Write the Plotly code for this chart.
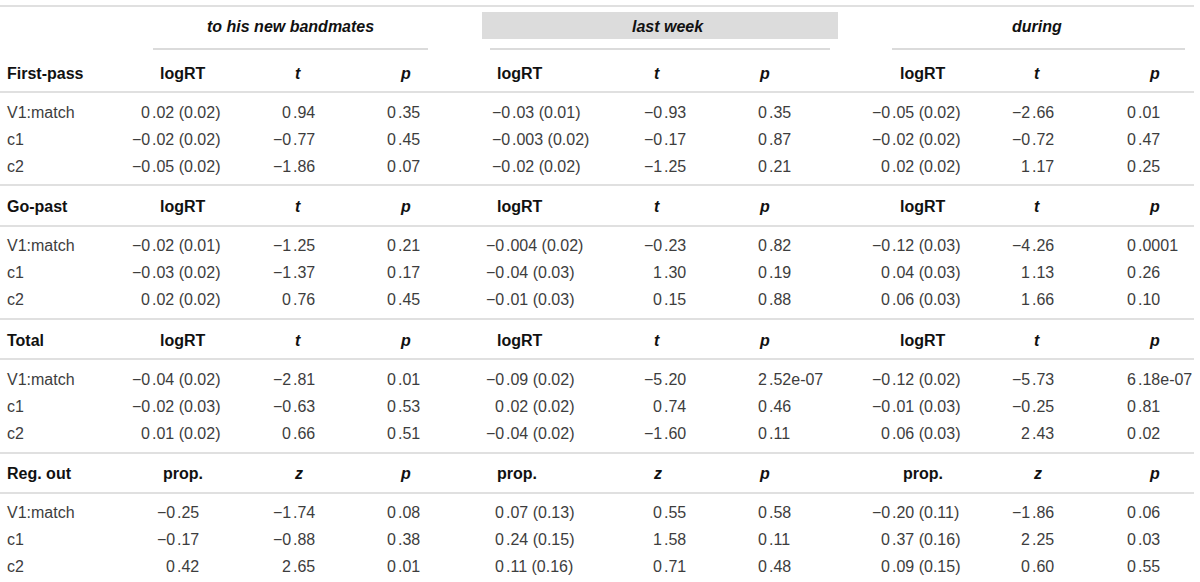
import plotly.graph_objects as go

# ---- table content ----
groups = ["to his new bandmates", "last week", "during"]
sections = ["First-pass", "Go-past", "Total", "Reg. out"]
effects = ["V1:match", "c1", "c2"]
est_names = ["logRT", "logRT", "logRT", "prop."]
stat_names = ["t", "t", "t", "z"]

# each list: [group][effect]
first_pass_est = [["0.02 (0.02)", "−0.02 (0.02)", "−0.05 (0.02)"],
                  ["−0.03 (0.01)", "−0.003 (0.02)", "−0.02 (0.02)"],
                  ["−0.05 (0.02)", "−0.02 (0.02)", "0.02 (0.02)"]]
first_pass_stat = [["0.94", "−0.77", "−1.86"],
                   ["−0.93", "−0.17", "−1.25"],
                   ["−2.66", "−0.72", "1.17"]]
first_pass_p = [["0.35", "0.45", "0.07"],
                ["0.35", "0.87", "0.21"],
                ["0.01", "0.47", "0.25"]]

go_past_est = [["−0.02 (0.01)", "−0.03 (0.02)", "0.02 (0.02)"],
               ["−0.004 (0.02)", "−0.04 (0.03)", "−0.01 (0.03)"],
               ["−0.12 (0.03)", "0.04 (0.03)", "0.06 (0.03)"]]
go_past_stat = [["−1.25", "−1.37", "0.76"],
                ["−0.23", "1.30", "0.15"],
                ["−4.26", "1.13", "1.66"]]
go_past_p = [["0.21", "0.17", "0.45"],
             ["0.82", "0.19", "0.88"],
             ["0.0001", "0.26", "0.10"]]

total_est = [["−0.04 (0.02)", "−0.02 (0.03)", "0.01 (0.02)"],
             ["−0.09 (0.02)", "0.02 (0.02)", "−0.04 (0.02)"],
             ["−0.12 (0.02)", "−0.01 (0.03)", "0.06 (0.03)"]]
total_stat = [["−2.81", "−0.63", "0.66"],
              ["−5.20", "0.74", "−1.60"],
              ["−5.73", "−0.25", "2.43"]]
total_p = [["0.01", "0.53", "0.51"],
           ["2.52e-07", "0.46", "0.11"],
           ["6.18e-07", "0.81", "0.02"]]

reg_out_est = [["−0.25", "−0.17", "0.42"],
               ["0.07 (0.13)", "0.24 (0.15)", "0.11 (0.16)"],
               ["−0.20 (0.11)", "0.37 (0.16)", "0.09 (0.15)"]]
reg_out_stat = [["−1.74", "−0.88", "2.65"],
                ["0.55", "1.58", "0.71"],
                ["−1.86", "2.25", "0.60"]]
reg_out_p = [["0.08", "0.38", "0.01"],
             ["0.58", "0.11", "0.48"],
             ["0.06", "0.03", "0.55"]]

section_data = [
    (first_pass_est, first_pass_stat, first_pass_p),
    (go_past_est, go_past_stat, go_past_p),
    (total_est, total_stat, total_p),
    (reg_out_est, reg_out_stat, reg_out_p),
]

# ---- layout (pixel positions on the 1200x582 page) ----
W, H = 1200, 582
label_x = 6
est_dec = [[151, 151, 151, 176], [511, 504.5, 504.5, 504.5], [891, 891, 891, 891]]
stat_dec = [292, 662.5, 1031]
p_dec = [397, 768, 1137]
est_head = [(183, "center"), (496, "left"), (923, "center")]
stat_head = [298, 657, 1037]
p_head = [405, 764, 1154]
group_x = [290, 668, 1037]
group_line = [(153, 428), (490, 830), (892, 1185)]
group_y, group_line_y = 26, 49
highlight = (482, 838, 12, 39)
header_y = [73, 206.5, 340, 473.5]
row_gap, first_row = 27, 39
full_lines = [6, 92, 185, 226, 319, 359, 453, 493]

val_font = dict(family="Liberation Sans, Arial, sans-serif", size=16, color="#3d3d3d")
head_font = dict(family="Liberation Sans, Arial, sans-serif", size=16, color="#111111")

annotations = []
shapes = []


def cell(x, y, text, anchor, font):
    annotations.append(dict(x=x, y=y, xref="x", yref="y", text=text, showarrow=False,
                            xanchor=anchor, yanchor="middle", borderpad=0, font=font))


def dec_cell(x, y, value):
    # align on the decimal point
    left, right = value.split(".", 1)
    cell(x, y, left, "right", val_font)
    cell(x, y, "." + right, "left", val_font)


def hline(x0, x1, y, color="#d6d6d6", width=1.5):
    shapes.append(dict(type="line", xref="x", yref="y", x0=x0, x1=x1, y0=y, y1=y,
                       line=dict(color=color, width=width), layer="below"))


# highlighted group header
x0, x1, y0, y1 = highlight
shapes.append(dict(type="rect", xref="x", yref="y", x0=x0, x1=x1, y0=y0, y1=y1,
                   fillcolor="#dcdcdc", line=dict(width=0), layer="below"))

for g, name in enumerate(groups):
    cell(group_x[g], group_y, "<b><i>%s</i></b>" % name, "center", head_font)
    hline(group_line[g][0], group_line[g][1], group_line_y, color="#cfcfcf")

for y in full_lines:
    hline(0, 1194, y)

for s, sec in enumerate(sections):
    hy = header_y[s]
    cell(label_x, hy, "<b>%s</b>" % sec, "left", head_font)
    est, stat, pv = section_data[s]
    for g in range(len(groups)):
        cell(est_head[g][0], hy, "<b>%s</b>" % est_names[s], est_head[g][1], head_font)
        cell(stat_head[g], hy, "<b><i>%s</i></b>" % stat_names[s], "center", head_font)
        cell(p_head[g], hy, "<b><i>p</i></b>", "center", head_font)
    for e, eff in enumerate(effects):
        ry = hy + first_row + row_gap * e
        cell(label_x, ry, eff, "left", val_font)
        for g in range(len(groups)):
            dec_cell(est_dec[g][s], ry, est[g][e])
            dec_cell(stat_dec[g], ry, stat[g][e])
            dec_cell(p_dec[g], ry, pv[g][e])

fig = go.Figure()
fig.update_layout(
    width=W, height=H,
    margin=dict(l=0, r=0, t=0, b=0),
    paper_bgcolor="white", plot_bgcolor="white",
    xaxis=dict(range=[0, W], visible=False, fixedrange=True),
    yaxis=dict(range=[H, 0], visible=False, fixedrange=True),
    showlegend=False,
    annotations=annotations,
    shapes=shapes,
)
# drop the browser's default body margin so the table sits at the page corner
fig.write_html("out.html", config={"displayModeBar": False},
               post_script="document.body.style.margin='0';document.body.style.overflow='hidden';")
